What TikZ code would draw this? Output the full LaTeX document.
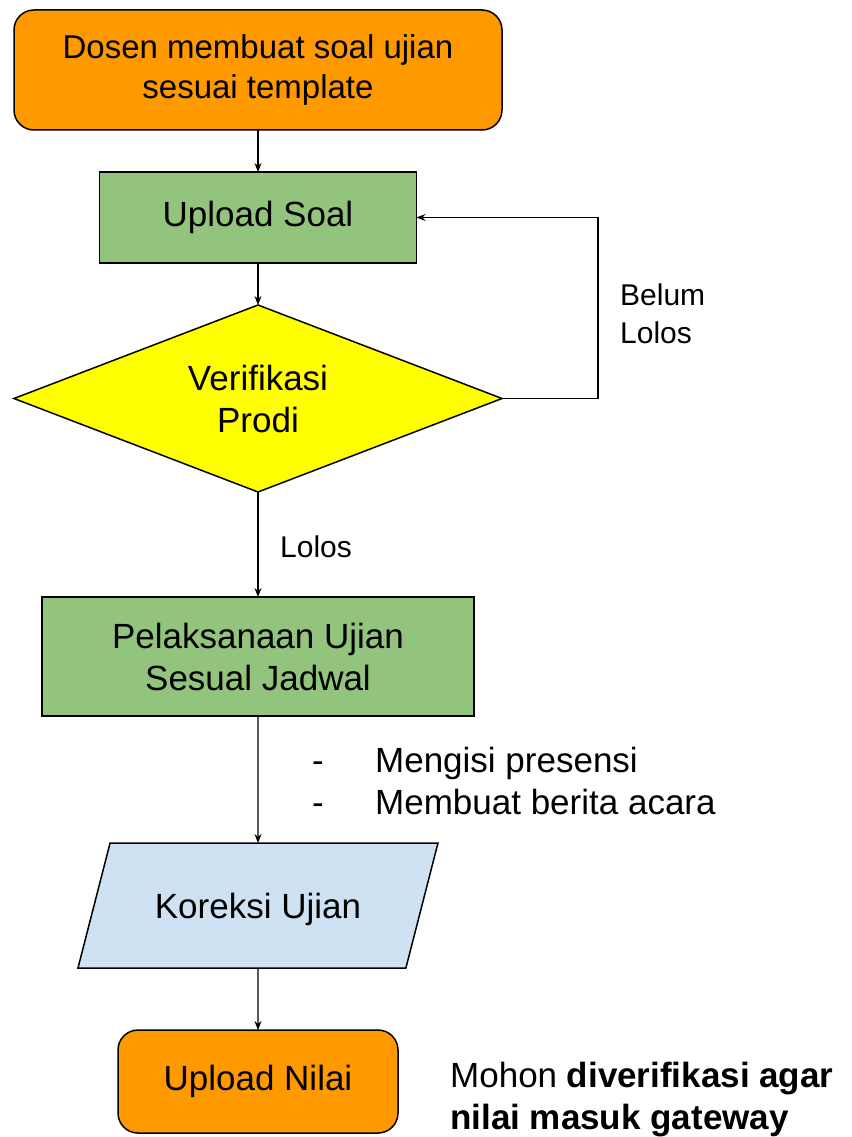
\documentclass[tikz,border=0pt]{standalone}
\usepackage{fontspec}
\setmainfont{Liberation Sans}
\usepackage{tikz}
\usetikzlibrary{arrows.meta}
\usetikzlibrary{positioning}
\usetikzlibrary{shapes.geometric}
\tikzstyle{flow}=[draw,line width=1.2pt,-{Stealth[length=9pt,width=7pt]}]
\tikzstyle{block}=[draw,line width=1.5pt,align=center,inner sep=0pt,outer sep=0pt,font=\fontsize{35}{42}\selectfont]

\begin{document}
\begin{tikzpicture}[
  x=1pt,y=-1pt,
  terminal/.style={block,fill=gd orange,rounded corners=20pt},
  process/.style={block,fill=gd green},
  decision/.style={block,fill=gd yellow,diamond,aspect=2.6},
  inout/.style={block,fill=gd blue,trapezium,trapezium left angle=75.6,trapezium right angle=104.4,trapezium stretches body,text height=33pt,text depth=7pt,inner ysep=42.5pt},
  remark/.style={align=left,inner sep=0pt,font=\fontsize{30}{38}\selectfont},
  comment/.style={align=left,inner sep=0pt,font=\fontsize{35}{42}\selectfont},
]
  \definecolor{gd orange}{HTML}{FF9900}
  \definecolor{gd green}{HTML}{93C47D}
  \definecolor{gd yellow}{HTML}{FFFF00}
  \definecolor{gd blue}{HTML}{CFE2F3}
  \useasboundingbox (0,0) rectangle (851,1137);

  \node[terminal,minimum width=488pt,minimum height=120pt,font=\fontsize{33}{40}\selectfont] (dosen) at (258,70) {Dosen membuat soal ujian\\sesuai template};
  \node[process,minimum width=317pt,minimum height=91pt,below=42pt of dosen] (upload) {Upload Soal};
  \node[decision,minimum width=488pt,minimum height=187pt,below=42pt of upload] (verif) {Verifikasi\\Prodi};
  \node[process,minimum width=432pt,minimum height=119pt,below=105pt of verif] (pelaksanaan) {Pelaksanaan Ujian\\Sesual Jadwal};
  \node[inout,minimum width=360pt,minimum height=125pt,below=127pt of pelaksanaan] (koreksi) {Koreksi Ujian};
  \node[terminal,minimum width=280pt,minimum height=103pt,below=62pt of koreksi] (nilai) {Upload Nilai};

  % keterangan
  \node[remark,anchor=west] (lolos) at (280,547) {Lolos};
  \node[remark,anchor=west] (belum) at (620,314) {Belum\\Lolos};
  \node[comment,anchor=west] (tugas) at (312,781) {\makebox[63pt][l]{-}Mengisi presensi\\\makebox[63pt][l]{-}Membuat berita acara};
  \node[comment,anchor=west] (mohon) at (450,1100) {Mohon \textbf{diverifikasi agar}\\\textbf{nilai masuk gateway}};

  \draw[flow] (dosen) -- (upload);
  \draw[flow] (upload) -- (verif);
  \draw[flow] (verif.east) -- ++(96,0) |- (upload.east);
  \draw[flow] (verif) -- (pelaksanaan);
  \draw[flow] (pelaksanaan) -- (koreksi);
  \draw[flow] (koreksi) -- (nilai);
\end{tikzpicture}
\end{document}
